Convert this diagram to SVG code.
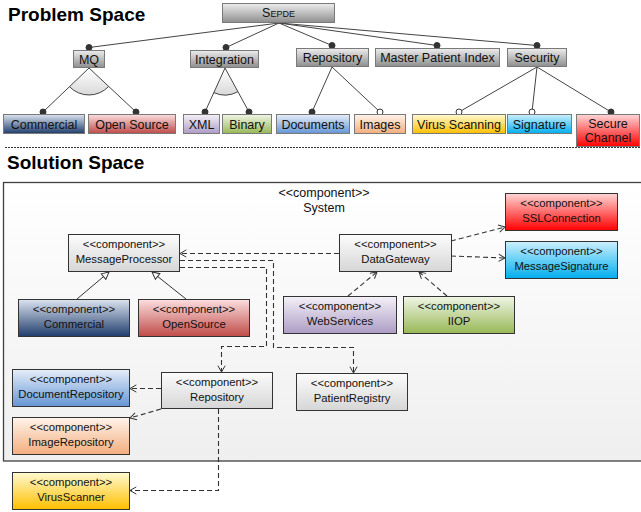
<svg xmlns="http://www.w3.org/2000/svg" width="641" height="512" viewBox="0 0 641 512">
<defs>
<linearGradient id="gGray" x1="0" y1="0" x2="0" y2="1"><stop offset="0" stop-color="#ededed"/><stop offset="1" stop-color="#8e8e8e"/></linearGradient>
<linearGradient id="gNavy" x1="0" y1="0" x2="0" y2="1"><stop offset="0" stop-color="#dbe3ef"/><stop offset="1" stop-color="#1f3d6c"/></linearGradient>
<linearGradient id="gRed" x1="0" y1="0" x2="0" y2="1"><stop offset="0" stop-color="#fbdede"/><stop offset="1" stop-color="#bf4b48"/></linearGradient>
<linearGradient id="gPurple" x1="0" y1="0" x2="0" y2="1"><stop offset="0" stop-color="#f4f1f8"/><stop offset="1" stop-color="#ad9cc4"/></linearGradient>
<linearGradient id="gGreen" x1="0" y1="0" x2="0" y2="1"><stop offset="0" stop-color="#f0f5e6"/><stop offset="1" stop-color="#98b856"/></linearGradient>
<linearGradient id="gBlue" x1="0" y1="0" x2="0" y2="1"><stop offset="0" stop-color="#e6eef9"/><stop offset="1" stop-color="#6595d4"/></linearGradient>
<linearGradient id="gOrange" x1="0" y1="0" x2="0" y2="1"><stop offset="0" stop-color="#fff4ea"/><stop offset="1" stop-color="#f3ad7e"/></linearGradient>
<linearGradient id="gYellow" x1="0" y1="0" x2="0" y2="1"><stop offset="0" stop-color="#fffad0"/><stop offset="1" stop-color="#ffbf00"/></linearGradient>
<linearGradient id="gCyan" x1="0" y1="0" x2="0" y2="1"><stop offset="0" stop-color="#cdf0fd"/><stop offset="1" stop-color="#00aeef"/></linearGradient>
<linearGradient id="gBright" x1="0" y1="0" x2="0" y2="1"><stop offset="0" stop-color="#ffd6d6"/><stop offset="1" stop-color="#ff0000"/></linearGradient>
<linearGradient id="gComp" x1="0" y1="0" x2="0" y2="1"><stop offset="0" stop-color="#fcfcfc"/><stop offset="1" stop-color="#d6d6d6"/></linearGradient>
<linearGradient id="gSys" x1="0" y1="0" x2="0" y2="1"><stop offset="0" stop-color="#ffffff"/><stop offset="1" stop-color="#efefef"/></linearGradient>
<linearGradient id="gSector" x1="0" y1="0" x2="0" y2="1"><stop offset="0" stop-color="#ffffff"/><stop offset="1" stop-color="#d9d9d9"/></linearGradient>
<marker id="open" viewBox="0 0 10 10" refX="8" refY="5" markerWidth="9" markerHeight="9" markerUnits="userSpaceOnUse" orient="auto">
<path d="M1,1 L8,5 L1,9" fill="none" stroke="#333" stroke-width="1.1" stroke-dasharray="none"/>
</marker>
<marker id="tri" viewBox="0 0 10 10" refX="9" refY="5" markerWidth="9" markerHeight="9" markerUnits="userSpaceOnUse" orient="auto">
<path d="M1,1 L9,5 L1,9 Z" fill="#fff" stroke="#333" stroke-width="1.1"/>
</marker>
</defs>
<style>
text{font-family:"Liberation Sans",Arial,sans-serif;fill:#111;text-anchor:middle}
.title{font-size:19px;font-weight:bold;text-anchor:start;fill:#000}
.f{font-size:12.5px}
.c{font-size:11.3px}
.sys{font-size:12.5px}
.pf{stroke:#7a7a7a;stroke-width:1}
.comp{stroke:#333;stroke-width:1}
.ln{stroke:#444;stroke-width:1;fill:none}
.dot{fill:#333;stroke:#333;stroke-width:1}
.odot{fill:#fff;stroke:#333;stroke-width:1}
.dash{stroke:#333;stroke-width:1.1;fill:none;stroke-dasharray:5,3;marker-end:url(#open)}
.gen{stroke:#333;stroke-width:1;fill:none;marker-end:url(#tri)}
</style>
<rect width="641" height="512" fill="#fff"/>

<text class="title" x="8" y="21">Problem Space</text>
<text class="title" x="7" y="169">Solution Space</text>

<g id="ps-connectors">
<path class="ln" d="M279,23 L89,47.5 M279,23 L226,47.5 M279,23 L332,45.5 M279,23 L437,45.5 M279,23 L537,45.5"/>
<path d="M89,68 L69.5,86.7 A27,27 0 0 0 108.7,86.4 Z" fill="url(#gSector)" stroke="none"/>
<path class="ln" d="M69.5,86.7 A27,27 0 0 0 108.7,86.4"/>
<path d="M225,68 L213.8,92.6 A27,27 0 0 0 237.9,91.7 Z" fill="url(#gSector)" stroke="none"/>
<path class="ln" d="M213.8,92.6 A27,27 0 0 0 237.9,91.7"/>
<path class="ln" d="M89,68 L43,112 M89,68 L136,112 M225,68 L205,112 M225,68 L249,112 M332,67 L312,112 M332,67 L380,112 M537,67 L459,112 M537,67 L532,112 M537,67 L611,112"/>
<circle class="dot" cx="89" cy="47.5" r="3"/>
<circle class="dot" cx="226" cy="47.5" r="3"/>
<circle class="dot" cx="332" cy="45.5" r="3"/>
<circle class="dot" cx="437" cy="45.5" r="3"/>
<circle class="dot" cx="537" cy="45.5" r="3"/>
<circle class="dot" cx="43" cy="112" r="3"/>
<circle class="dot" cx="136" cy="112" r="3"/>
<circle class="dot" cx="205" cy="112" r="3"/>
<circle class="dot" cx="249" cy="112" r="3"/>
<circle class="dot" cx="312" cy="112" r="3"/>
<circle class="odot" cx="380" cy="112" r="3"/>
<circle class="odot" cx="459" cy="112" r="3"/>
<circle class="odot" cx="532" cy="112" r="3"/>
<circle class="dot" cx="611" cy="112" r="3"/>
</g>

<g id="sepde"><rect class="pf" x="222.5" y="3.5" width="112" height="19" fill="url(#gGray)"/><text class="f" x="278.5" y="17" style="font-variant:small-caps">Sepde</text></g>
<g id="mq"><rect class="pf" x="73.5" y="50.5" width="31" height="17" fill="url(#gGray)"/><text class="f" x="89" y="63.5">MQ</text></g>
<g id="integration"><rect class="pf" x="190.5" y="50.5" width="68" height="17" fill="url(#gGray)"/><text class="f" x="224.5" y="63.5">Integration</text></g>
<g id="repository-f"><rect class="pf" x="296.5" y="48.5" width="72" height="18" fill="url(#gGray)"/><text class="f" x="332.5" y="62">Repository</text></g>
<g id="mpi"><rect class="pf" x="375.5" y="48.5" width="124" height="18" fill="url(#gGray)"/><text class="f" x="437.5" y="62">Master Patient Index</text></g>
<g id="security"><rect class="pf" x="507.5" y="48.5" width="59" height="18" fill="url(#gGray)"/><text class="f" x="537" y="62">Security</text></g>

<g id="commercial-f"><rect class="pf" x="3.5" y="114.5" width="81" height="19" fill="url(#gNavy)"/><text class="f" x="44" y="128.5">Commercial</text></g>
<g id="opensource-f"><rect class="pf" x="88.5" y="114.5" width="87" height="19" fill="url(#gRed)"/><text class="f" x="132" y="128.5">Open Source</text></g>
<g id="xml"><rect class="pf" x="183.5" y="114.5" width="36" height="19" fill="url(#gPurple)"/><text class="f" x="201.5" y="128.5">XML</text></g>
<g id="binary"><rect class="pf" x="222.5" y="114.5" width="49" height="19" fill="url(#gGreen)"/><text class="f" x="247" y="128.5">Binary</text></g>
<g id="documents"><rect class="pf" x="276.5" y="114.5" width="73" height="19" fill="url(#gBlue)"/><text class="f" x="313" y="128.5">Documents</text></g>
<g id="images"><rect class="pf" x="354.5" y="114.5" width="51" height="19" fill="url(#gOrange)"/><text class="f" x="380" y="128.5">Images</text></g>
<g id="virusscanning"><rect class="pf" x="412.5" y="114.5" width="93" height="19" fill="url(#gYellow)"/><text class="f" x="459" y="128.5">Virus Scanning</text></g>
<g id="signature"><rect class="pf" x="507.5" y="114.5" width="64" height="19" fill="url(#gCyan)"/><text class="f" x="539.5" y="128.5">Signature</text></g>
<g id="securechannel"><rect class="pf" x="576.5" y="114.5" width="63" height="32" fill="url(#gBright)"/><text class="f" x="608" y="128">Secure</text><text class="f" x="608" y="142">Channel</text></g>

<line x1="5" y1="147.5" x2="640" y2="147.5" stroke="#333" stroke-width="1" stroke-dasharray="2,1"/>

<g id="system"><rect x="3.5" y="182.5" width="640" height="278.5" fill="url(#gSys)" stroke="#404040" stroke-width="1.3"/><text class="sys" x="324" y="197">&lt;&lt;component&gt;&gt;</text><text class="sys" x="324" y="212">System</text></g>

<g id="messageprocessor"><rect class="comp" x="68.5" y="234.5" width="111" height="37" fill="url(#gComp)"/><text class="c" x="124" y="248">&lt;&lt;component&gt;&gt;</text><text class="c" x="124" y="262.5">MessageProcessor</text></g>
<g id="commercial"><rect class="comp" x="18.5" y="299.5" width="111" height="37" fill="url(#gNavy)"/><text class="c" x="74" y="313">&lt;&lt;component&gt;&gt;</text><text class="c" x="74" y="327.5">Commercial</text></g>
<g id="opensource"><rect class="comp" x="138.5" y="299.5" width="111" height="37" fill="url(#gRed)"/><text class="c" x="194" y="313">&lt;&lt;component&gt;&gt;</text><text class="c" x="194" y="327.5">OpenSource</text></g>
<g id="datagateway"><rect class="comp" x="339.5" y="234.5" width="112" height="37" fill="url(#gComp)"/><text class="c" x="395.5" y="248">&lt;&lt;component&gt;&gt;</text><text class="c" x="395.5" y="262.5">DataGateway</text></g>
<g id="sslconnection"><rect class="comp" x="505.5" y="193.5" width="112" height="37" fill="url(#gBright)"/><text class="c" x="561.5" y="207">&lt;&lt;component&gt;&gt;</text><text class="c" x="561.5" y="221.5">SSLConnection</text></g>
<g id="messagesignature"><rect class="comp" x="505.5" y="241.5" width="112" height="37" fill="url(#gCyan)"/><text class="c" x="561.5" y="255">&lt;&lt;component&gt;&gt;</text><text class="c" x="561.5" y="269.5">MessageSignature</text></g>
<g id="webservices"><rect class="comp" x="283.5" y="296.5" width="113" height="37" fill="url(#gPurple)"/><text class="c" x="340" y="310">&lt;&lt;component&gt;&gt;</text><text class="c" x="340" y="324.5">WebServices</text></g>
<g id="iiop"><rect class="comp" x="403.5" y="296.5" width="111" height="37" fill="url(#gGreen)"/><text class="c" x="459" y="310">&lt;&lt;component&gt;&gt;</text><text class="c" x="459" y="324.5">IIOP</text></g>
<g id="documentrepository"><rect class="comp" x="12.5" y="369.5" width="117" height="37" fill="url(#gBlue)"/><text class="c" x="71" y="383">&lt;&lt;component&gt;&gt;</text><text class="c" x="71" y="397.5">DocumentRepository</text></g>
<g id="imagerepository"><rect class="comp" x="12.5" y="417.5" width="117" height="37" fill="url(#gOrange)"/><text class="c" x="71" y="431">&lt;&lt;component&gt;&gt;</text><text class="c" x="71" y="445.5">ImageRepository</text></g>
<g id="repository"><rect class="comp" x="161.5" y="372.5" width="111" height="36" fill="url(#gComp)"/><text class="c" x="217" y="386">&lt;&lt;component&gt;&gt;</text><text class="c" x="217" y="400.5">Repository</text></g>
<g id="patientregistry"><rect class="comp" x="296.5" y="373.5" width="111" height="37" fill="url(#gComp)"/><text class="c" x="352" y="387">&lt;&lt;component&gt;&gt;</text><text class="c" x="352" y="401.5">PatientRegistry</text></g>
<g id="virusscanner"><rect class="comp" x="12.5" y="472.5" width="117" height="37" fill="url(#gYellow)"/><text class="c" x="71" y="486">&lt;&lt;component&gt;&gt;</text><text class="c" x="71" y="500.5">VirusScanner</text></g>

<g id="connectors">
<path class="gen" d="M77,299 L109,272"/>
<path class="gen" d="M186,299 L152,272"/>
<path class="dash" d="M339,253.5 L180,253.5"/>
<path class="dash" d="M180,260.5 H273.5 V347.5 H353.5 V373"/>
<path class="dash" d="M180,267.5 H266.5 V346.5 H221.5 V372"/>
<path class="dash" d="M451,241 L505,227"/>
<path class="dash" d="M451,256 L505,258"/>
<path class="dash" d="M348,296 L377,272"/>
<path class="dash" d="M447,296 L419,272"/>
<path class="dash" d="M161,388.5 L130,388.5"/>
<path class="dash" d="M161,409 L130,418"/>
<path class="dash" d="M218.5,409 V490.5 H130"/>
</g>
</svg>
